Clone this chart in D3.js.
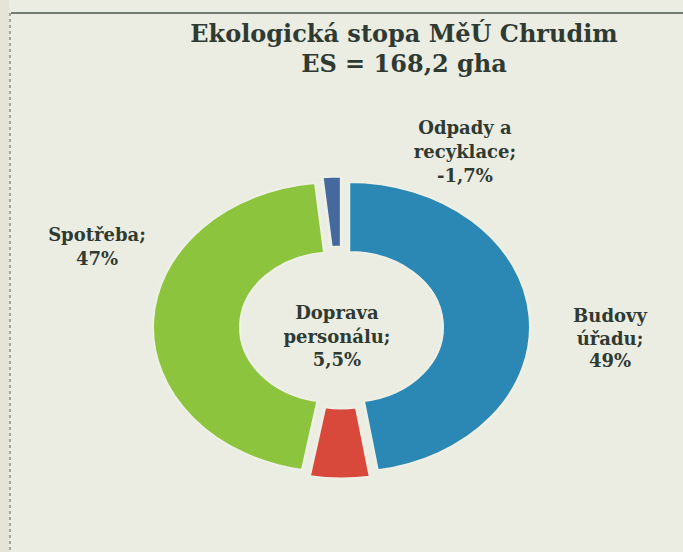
<!DOCTYPE html>
<html>
<head>
<meta charset="utf-8">
<script src="https://cdn.jsdelivr.net/npm/d3@7"></script>
<style>
  html, body { margin: 0; padding: 0; background: #ebede2; }
  svg { display: block; }
  .lbl { font-family: "DejaVu Serif", serif; font-weight: bold; fill: #2f3a32; }
</style>
</head>
<body>
<svg id="chart" width="683" height="552"></svg>
<script>
// data
const categories = ['Budovy úřadu', 'Doprava personálu', 'Spotřeba', 'Odpady a recyklace'];
const shares = [49, 5.5, 47, -1.7];
const shareText = ['49%', '5,5%', '47%', '-1,7%'];
const nameLines = [['Budovy', 'úřadu;'], ['Doprava', 'personálu;'], ['Spotřeba;'], ['Odpady a', 'recyklace;']];
const sliceColors = ['#2b88b4', '#d8493c', '#8dc43d', '#45699f'];
const titleLines = ['Ekologická stopa MěÚ Chrudim', 'ES = 168,2 gha'];

// layout (the scan is stretched horizontally, so the ring is drawn squashed)
const W = 683, H = 552;
const cx = 341.5, cy = 327.5;
const R = 145, innerR = 75, stretchX = 1.25, explode = 6;
const labelPos = [
    { x: 610, y: 322, dy: 22.5 },
    { x: 337, y: 319, dy: 23.5 },
    { x: 97,  y: 241, dy: 24 },
    { x: 465, y: 134, dy: 24 }
];

const svg = d3.select('#chart');

// frame of the clipping
svg.append('rect').attr('x', 0).attr('y', 0).attr('width', 9).attr('height', H).attr('fill', '#e5e4d7');
svg.append('line')
    .attr('x1', 11).attr('x2', W).attr('y1', 13).attr('y2', 13)
    .attr('stroke', '#737a70').attr('stroke-width', 2);
svg.append('line')
    .attr('x1', 10).attr('x2', 10).attr('y1', 13).attr('y2', H)
    .attr('stroke', '#8b9086').attr('stroke-width', 1.5).attr('stroke-dasharray', '3,3');

// title
svg.append('g').selectAll('text')
    .data(titleLines)
    .enter().append('text')
    .attr('class', 'lbl')
    .attr('x', 404)
    .attr('y', (d, i) => 42 + i * 30)
    .attr('text-anchor', 'middle')
    .style('font-size', '24px')
    .text(d => d);

// donut
const pie = d3.pie().sort(null).value(d => Math.abs(d));
const arcs = pie(shares);
const arc = d3.arc().innerRadius(innerR).outerRadius(R);

const ring = svg.append('g')
    .attr('transform', `translate(${cx},${cy}) scale(${stretchX},1)`);

ring.selectAll('path')
    .data(arcs)
    .enter().append('path')
    .attr('d', arc)
    .attr('fill', (d, i) => sliceColors[i])
    .attr('stroke', '#eef0e6')
    .attr('stroke-width', 2)
    .attr('transform', d => {
        let a = (d.startAngle + d.endAngle) / 2;
        return `translate(${explode * Math.sin(a)},${-explode * Math.cos(a)})`;
    });

// data labels
const labels = svg.append('g').selectAll('text')
    .data(arcs)
    .enter().append('text')
    .attr('class', 'lbl')
    .attr('text-anchor', 'middle')
    .style('font-size', '18px');

labels.each(function(d, i) {
    let lines = nameLines[i].concat([shareText[i]]);
    let p = labelPos[i];
    d3.select(this).selectAll('tspan')
        .data(lines)
        .enter().append('tspan')
        .attr('x', p.x)
        .attr('y', (t, j) => p.y + j * p.dy)
        .text(t => t);
});
</script>
</body>
</html>
